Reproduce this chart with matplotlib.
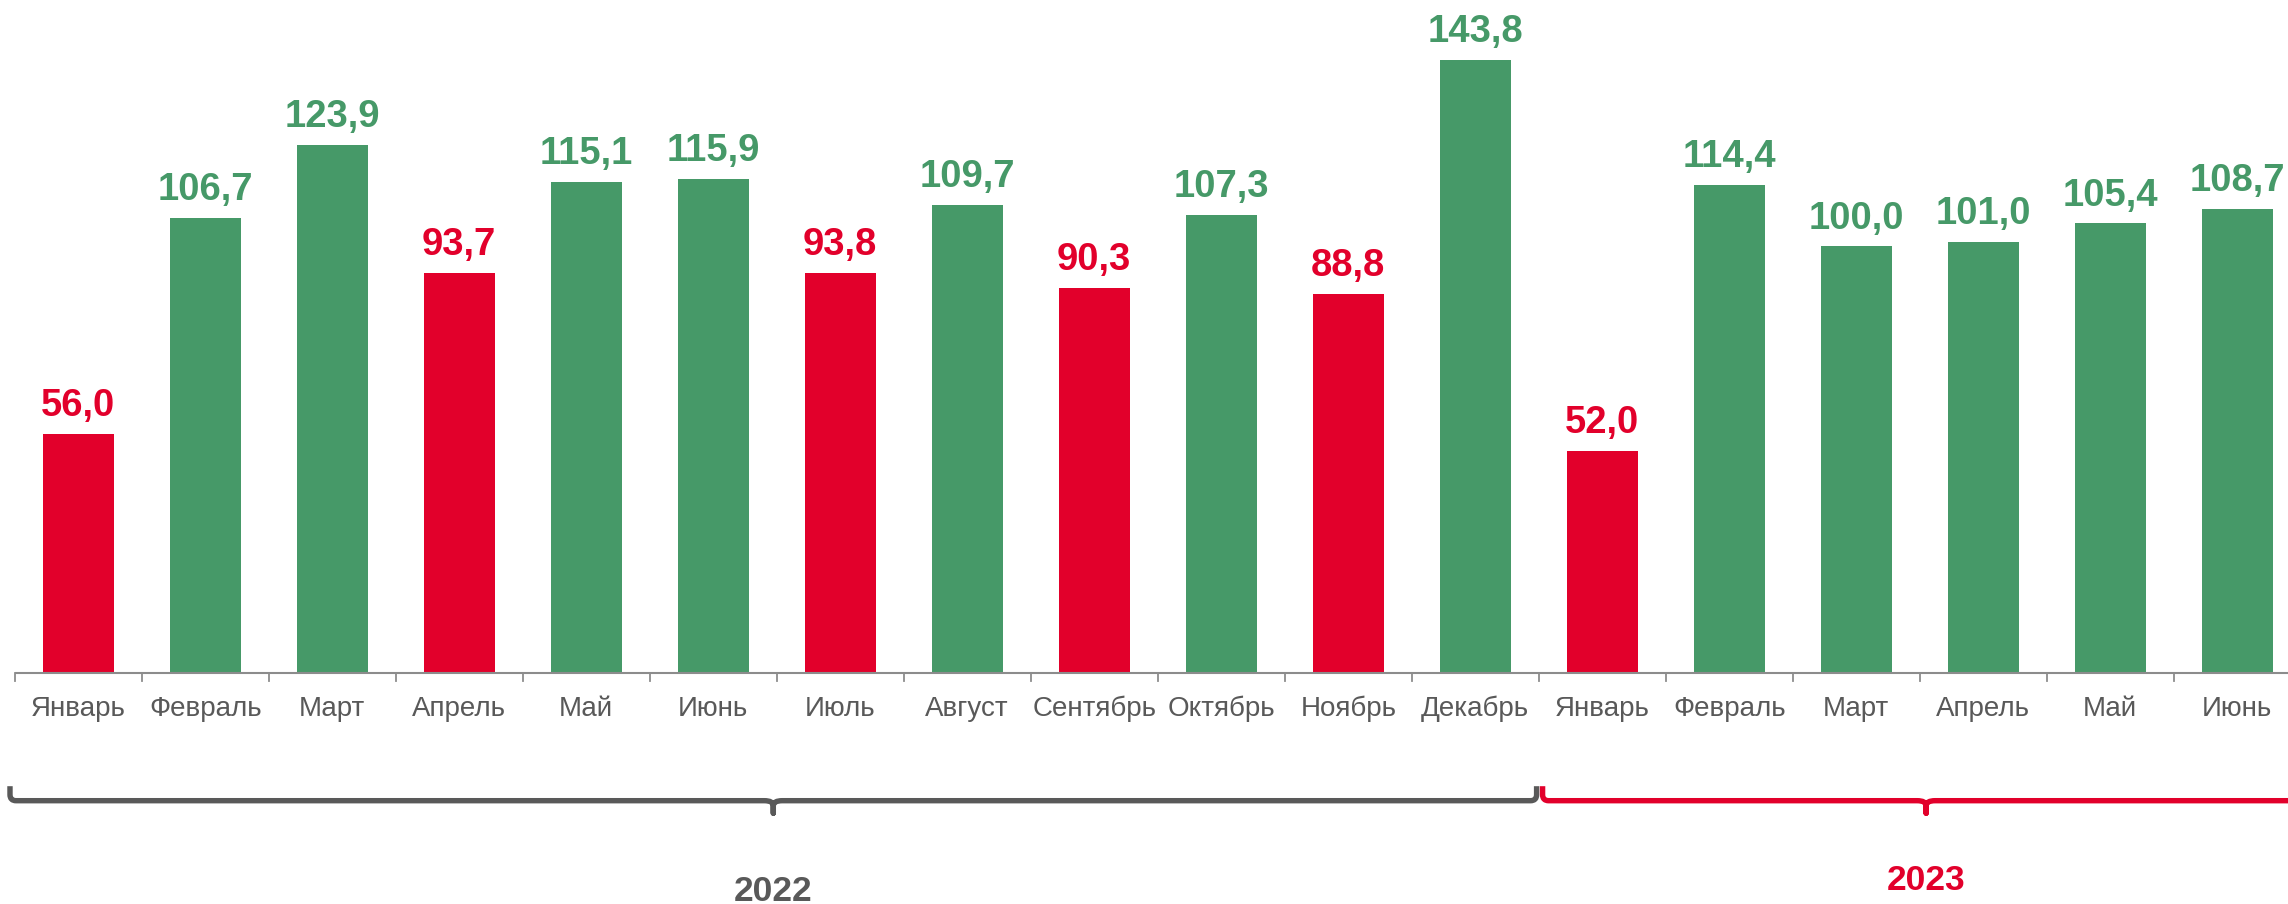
import matplotlib
matplotlib.use("Agg")
import matplotlib.pyplot as plt
from matplotlib.path import Path
from matplotlib.patches import PathPatch

plt.rcParams['font.family'] = ['Liberation Sans', 'DejaVu Sans']

months = ["Январь", "Февраль", "Март", "Апрель", "Май", "Июнь", "Июль", "Август",
          "Сентябрь", "Октябрь", "Ноябрь", "Декабрь",
          "Январь", "Февраль", "Март", "Апрель", "Май", "Июнь"]
values = [56.0, 106.7, 123.9, 93.7, 115.1, 115.9, 93.8, 109.7, 90.3, 107.3, 88.8, 143.8,
          52.0, 114.4, 100.0, 101.0, 105.4, 108.7]
years = ["2022", "2023"]
year_spans = [(0, 11), (12, 17)]

GREEN = "#469968"
RED = "#E2002B"
GRAY = "#595959"
AXIS = "#8C8C8C"
year_colors = [GRAY, RED]

W, H, DPI = 2288, 904, 100
fig = plt.figure(figsize=(W / DPI + 0.001, H / DPI + 0.001), dpi=DPI)
ax = fig.add_axes([0, 0, 1, 1])
ax.set_xlim(-0.6157, 17.40)
ax.set_ylim(-54.27, 157.84)
ax.axis('off')

PX_X = 127.0     # pixels per category
PX_Y = 4.262     # pixels per value unit

x = list(range(len(values)))
colors = [RED if v < 100 else GREEN for v in values]
ax.bar(x, values, width=0.56, color=colors, zorder=2)

# axis line and boundary ticks
ax.plot([-0.5, len(values) - 0.5], [0, 0], color=AXIS, lw=1.5, zorder=3,
        solid_capstyle='butt')
for b in range(len(values) + 1):
    ax.plot([b - 0.5, b - 0.5], [0, -8 / PX_Y], color=AXIS, lw=1.3, zorder=3)

# value labels
for xi, v, c in zip(x, values, colors):
    ax.text(xi, v + 18 / PX_Y, f"{v:.1f}".replace('.', ','), ha='center', va='baseline',
            fontsize=27.5, fontweight='bold', color=c)

# month labels
for xi, m in zip(x, months):
    ax.text(xi, -43.3 / PX_Y, m, ha='center', va='baseline', fontsize=20, color=GRAY)


def brace(x0, x1, color):
    xm = (x0 + x1) / 2
    y_line = -128.0 / PX_Y
    y_top = -113.5 / PX_Y
    y_tip = -140.5 / PX_Y
    rx, ry = 6 / PX_X, 6 / PX_Y
    tx, ty = 9 / PX_X, 5 / PX_Y
    verts = [
        (x0, y_top), (x0, y_line + ry),
        (x0, y_line), (x0 + rx, y_line),
        (xm - tx, y_line),
        (xm, y_line), (xm, y_line - ty),
        (xm, y_tip),
        (xm, y_line - ty),
        (xm, y_line), (xm + tx, y_line),
        (x1 - rx, y_line),
        (x1, y_line), (x1, y_line + ry),
        (x1, y_top),
    ]
    codes = [Path.MOVETO, Path.LINETO,
             Path.CURVE3, Path.CURVE3,
             Path.LINETO,
             Path.CURVE3, Path.CURVE3,
             Path.LINETO,
             Path.LINETO,
             Path.CURVE3, Path.CURVE3,
             Path.LINETO,
             Path.CURVE3, Path.CURVE3,
             Path.LINETO]
    ax.add_patch(PathPatch(Path(verts, codes), facecolor='none', edgecolor=color,
                           lw=3.9, capstyle='butt', joinstyle='round', clip_on=False))
    return xm


brace_x = [(-0.537, 11.483), (11.53, 17.57)]
year_baselines = [-228.0 / PX_Y, -217.5 / PX_Y]
for (bx0, bx1), yr, col, yb in zip(brace_x, years, year_colors, year_baselines):
    xm = brace(bx0, bx1, col)
    ax.text(xm, yb, yr, ha='center', va='baseline', fontsize=25.5,
            fontweight='bold', color=col)

fig.savefig("out.png", dpi=DPI)
